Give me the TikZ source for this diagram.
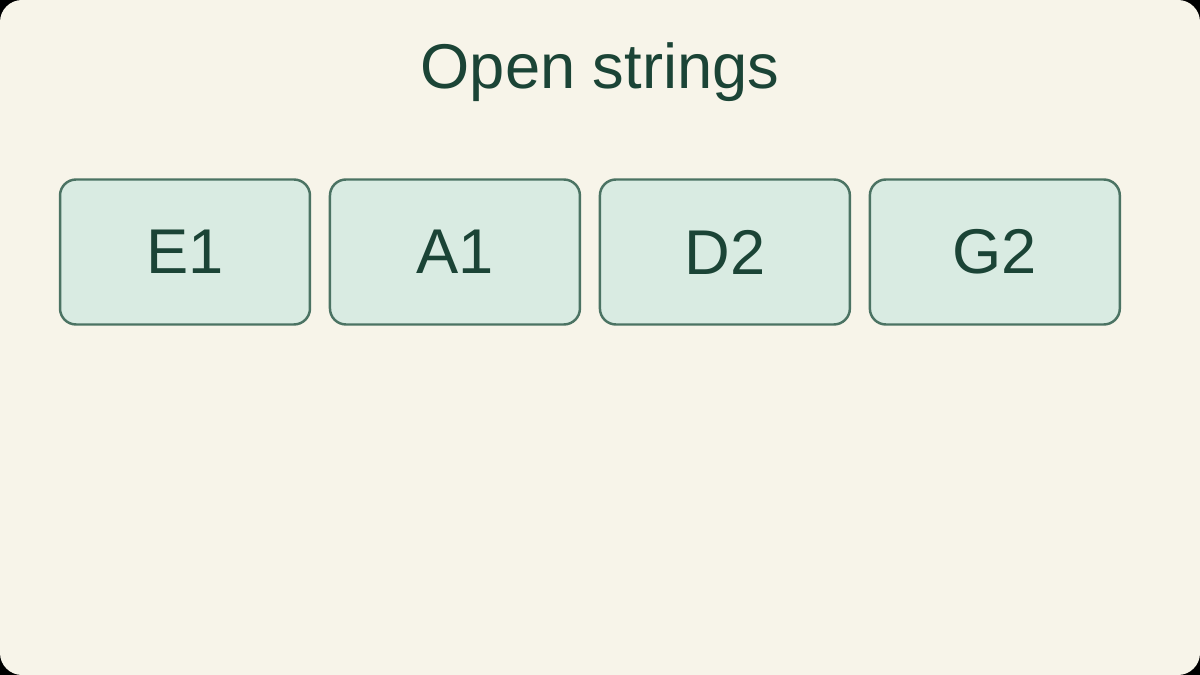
\documentclass[tikz,border=0pt]{standalone}
\usepackage{fontspec}
\setmainfont{Liberation Sans}
\usetikzlibrary{positioning}

\definecolor{paper}{HTML}{F7F4E9}
\definecolor{boxfill}{HTML}{D9EBE2}
\definecolor{boxline}{HTML}{4B7363}
\definecolor{ink}{HTML}{1B4436}

\begin{document}
\begin{tikzpicture}[x=0.02cm, y=-0.02cm,
      note/.style={rectangle, rounded corners=0.32cm, draw=boxline, line width=1.4pt, fill=boxfill,
        minimum width=5cm, minimum height=2.9cm, outer sep=0pt, inner sep=0pt,
        text=ink, font=\fontsize{36}{40}\selectfont},
      node distance=0.4cm]

      % Background
      \fill[black] (0,0) rectangle (1200,675);
      \fill[paper, rounded corners=0.44cm] (0,0) rectangle (1200,675);

      \node[anchor=base, text=ink, font=\fontsize{36}{40}\selectfont] (title) at (600,89) {Open strings};

      % Strings
      \node[note] (e1) at (185,252) {E1};
      \node[note, right=of e1] (a1) {A1};
      \node[note, right=of a1] (d2) {D2};
      \node[note, right=of d2] (g2) {G2};
    \end{tikzpicture}
\end{document}
